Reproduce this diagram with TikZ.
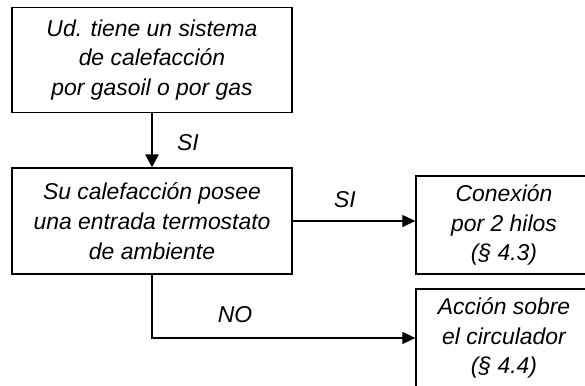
\documentclass[tikz,border=0pt]{standalone}
\usepackage{fontspec}
\setmainfont{Liberation Sans}
\usetikzlibrary{arrows.meta}
\tikzset{
  box/.style={draw, line width=1.3bp, inner sep=0pt, align=center,
    font=\fontsize{23}{30}\selectfont\itshape},
  lbl/.style={inner sep=0pt, font=\fontsize{23}{30}\selectfont\itshape},
  thinarrow/.style={line width=1.2bp, -{Triangle[length=13bp,width=12bp]}},
  thickarrow/.style={line width=2.6bp, -{Triangle[length=13bp,width=13bp]}}
}
\begin{document}
\begin{tikzpicture}[x=1bp,y=-1bp]
\useasboundingbox (0,0) rectangle (585,385);
\clip (0,0) rectangle (585,385);
\node[box, minimum width=280bp, minimum height=105bp] (a) at (152,60)
  {Ud. tiene un sistema\\de calefacción\\por gasoil o por gas};
\node[box, minimum width=280bp, minimum height=106bp] (b) at (152,221)
  {Su calefacción posee\\una entrada termostato\\de ambiente};
\node[box, minimum width=176bp, minimum height=98bp] (c) at (504,225)
  {Conexión\\por 2 hilos\\(§ 4.3)};
\node[box, minimum width=176bp, minimum height=98bp] (d) at (504,338)
  {Acción sobre\\el circulador\\(§ 4.4)};
\draw[thickarrow] (a.south) -- (b.north);
\draw[thinarrow] (b.east) -- (b.east -| c.west);
\draw[thinarrow] (b.south) |- (d.west);
\node[lbl] (si1) at (188,143) {SI};
\node[lbl] (si2) at (345,200) {SI};
\node[lbl] (no) at (235,315) {NO};
\end{tikzpicture}
\end{document}
